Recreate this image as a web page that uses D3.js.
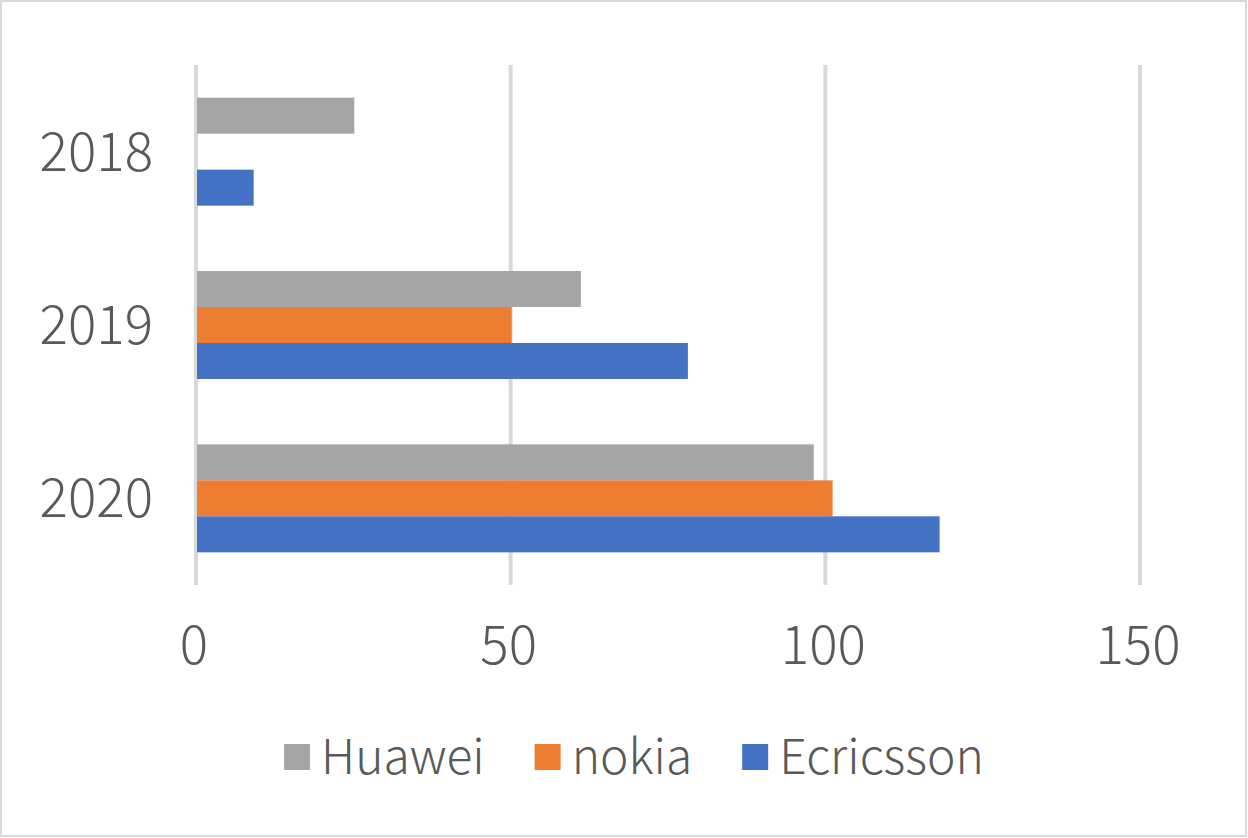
<!DOCTYPE html>
<html>
<head>
<meta charset="utf-8">
<script src="https://cdn.jsdelivr.net/npm/d3@7"></script>
<style>
  body { margin: 0; background: #fff; }
  text { font-family: "Noto Sans CJK SC", "Noto Sans", sans-serif; font-weight: 300; fill: #595959; }
</style>
</head>
<body>
<div id="chart"></div>
<script>
(function () {

    // data
    var years = ["2018", "2019", "2020"];
    var seriesNames = ["Huawei", "nokia", "Ecricsson"];
    var seriesColors = ["#a5a5a5", "#ed7d31", "#4472c4"];
    var huawei = [25, 61, 98];
    var nokia = [null, 50, 101];
    var ecricsson = [9, 78, 118];
    var xTicks = [0, 50, 100, 150];

    var width = 1248, height = 838;
    var margin = { top: 65, right: 107, bottom: 253, left: 197 };

    var svg = d3.select("#chart")
        .append("svg")
        .attr("width", width)
        .attr("height", height);

    // outer frame
    svg.append("rect")
        .attr("x", 1).attr("y", 1)
        .attr("width", width - 3).attr("height", height - 3)
        .attr("fill", "#fff")
        .attr("stroke", "#d9d9d9")
        .attr("stroke-width", 2);

    var x = d3.scaleLinear()
        .domain([0, 150])
        .range([margin.left, width - margin.right]);

    var y = d3.scaleBand()
        .domain(years)
        .range([margin.top, height - margin.bottom])
        .paddingInner(0.377)
        .paddingOuter(0.377 / 2);

    var ySub = d3.scaleBand()
        .domain(seriesNames)
        .range([0, y.bandwidth()]);

    // vertical gridlines
    svg.append("g")
        .selectAll("line")
        .data(xTicks)
        .enter()
        .append("line")
        .attr("x1", function (d) { return x(d) - 1; })
        .attr("x2", function (d) { return x(d) - 1; })
        .attr("y1", margin.top)
        .attr("y2", height - margin.bottom)
        .attr("stroke", "#d9d9d9")
        .attr("stroke-width", 4);

    // build rows
    var values = [huawei, nokia, ecricsson];
    var rows = [];
    years.forEach(function (yr, i) {
        seriesNames.forEach(function (s, j) {
            if (values[j][i] != null) {
                rows.push({ year: yr, series: s, value: values[j][i], color: seriesColors[j] });
            }
        });
    });

    svg.append("g")
        .selectAll("rect")
        .data(rows)
        .enter()
        .append("rect")
        .attr("x", x(0))
        .attr("y", function (d) { return y(d.year) + ySub(d.series); })
        .attr("width", function (d) { return x(d.value) - x(0); })
        .attr("height", ySub.bandwidth())
        .attr("fill", function (d) { return d.color; });

    // category labels
    svg.append("g")
        .selectAll("text")
        .data(years)
        .enter()
        .append("text")
        .attr("x", 153)
        .attr("y", function (d) { return y(d) + y.bandwidth() / 2; })
        .attr("dy", "0.36em")
        .attr("text-anchor", "end")
        .style("font-size", "53px")
        .text(function (d) { return d; });

    // value axis labels
    svg.append("g")
        .selectAll("text")
        .data(xTicks)
        .enter()
        .append("text")
        .attr("x", function (d) { return x(d) - 3; })
        .attr("y", 664)
        .attr("text-anchor", "middle")
        .style("font-size", "53px")
        .text(function (d) { return d; });

    // legend
    var legend = svg.append("g");
    var item = legend.selectAll("g")
        .data(seriesNames)
        .enter()
        .append("g");

    item.append("rect")
        .attr("width", 26)
        .attr("height", 26)
        .attr("y", 744)
        .attr("fill", function (d, i) { return seriesColors[i]; });

    item.append("text")
        .attr("x", 37)
        .attr("y", 774)
        .style("font-size", "48px")
        .text(function (d) { return d; });

    var pos = 0;
    item.each(function () {
        var w = 37 + d3.select(this).select("text").node().getComputedTextLength();
        d3.select(this).attr("transform", "translate(" + pos + ",0)");
        pos += w + 50;
    });
    var total = pos - 50;
    legend.attr("transform", "translate(" + (634 - total / 2) + ",0)");

})();
</script>
</body>
</html>
